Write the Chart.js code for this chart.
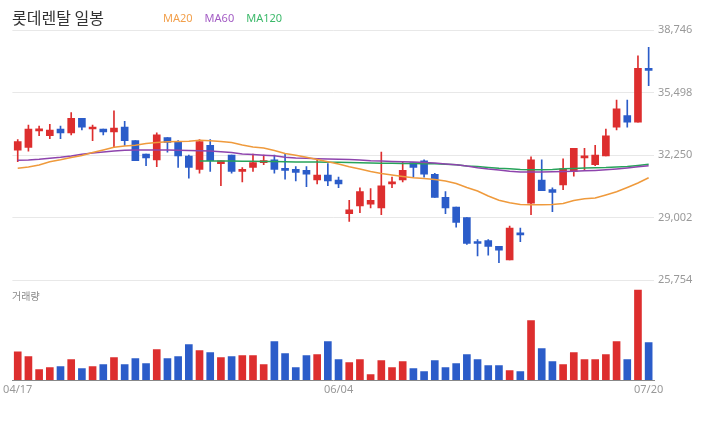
<!DOCTYPE html>
<html>
<head>
<meta charset="utf-8">
<script src="https://cdn.jsdelivr.net/npm/chart.js@4.4.1/dist/chart.umd.min.js"></script>
<style>
  body { margin: 0; background: #fff; font-family: 'Noto Sans CJK KR', 'Noto Sans', sans-serif; }
  #wrap { position: relative; width: 720px; height: 440px; }
  #title { position: absolute; left: 12px; top: 5px; font-size: 16px; color: #333; }
  #legend { position: absolute; left: 163px; top: 10px; font-size: 11px; font-family: 'Noto Sans', sans-serif; }
  #legend span { margin-right: 12px; }
  #volLabel { position: absolute; left: 12px; top: 288px; font-size: 10px; color: #888; }
  canvas { position: absolute; left: 0; top: 0; }
</style>
</head>
<body>
<div id="wrap">
  <canvas id="stockChart" width="720" height="440"></canvas>
  <div id="title">롯데렌탈 일봉</div>
  <div id="legend"><span style="color:#f2a04c">MA20</span><span style="color:#a35cc4">MA60</span><span style="color:#3cb96a">MA120</span></div>
  <div id="volLabel">거래량</div>
</div>
<script>
const dates = ['04/17','04/18','04/19','04/20','04/23','04/24','04/25','04/26','04/27','04/30',
  '05/02','05/03','05/04','05/08','05/09','05/10','05/11','05/14','05/15','05/16',
  '05/17','05/18','05/21','05/23','05/24','05/25','05/28','05/29','05/30','05/31',
  '06/04','06/05','06/07','06/08','06/11','06/12','06/14','06/15','06/18','06/19',
  '06/20','06/21','06/22','06/25','06/26','06/27','06/28','06/29','07/02','07/03',
  '07/04','07/05','07/06','07/09','07/10','07/11','07/12','07/16','07/19','07/20'];
const shownDates = ['04/17', '06/04', '07/20'];
const priceTicks = [25754, 29002, 32250, 35498, 38746];

const opens  = [32500,32650,33500,33250,33600,33400,34150,33600,33600,33450,
  33700,33000,32300,32000,33150,32950,32200,31500,32750,31800,
  32250,31400,31600,31850,32000,31550,31500,31450,30950,31200,
  30950,29200,29600,29700,29500,30750,30950,31850,31950,31250,
  30050,29550,29000,27750,27800,27500,26800,28200,29750,30950,
  30450,30700,31400,32100,31750,32200,33700,34300,33950,36750];
const closes = [32950,33600,33600,33550,33400,34150,33700,33700,33450,33650,
  33000,31950,32100,33300,32900,32200,31600,32950,31950,31950,
  31400,31500,31850,31950,31500,31450,31350,31250,31200,30900,
  30750,29400,30350,29900,30650,30850,31450,31600,31250,30050,
  29500,28750,27650,27650,27500,27300,28450,28100,32000,30400,
  30300,31550,32600,32200,32250,33250,34650,33950,36750,36650];
const highs  = [33050,33800,33750,33850,33750,34450,34150,33800,33600,34550,
  34000,33000,32300,33400,33150,33000,32250,33050,33050,31950,
  32250,31600,32300,32250,32250,32300,31650,31650,32000,31800,
  31100,29900,30550,30500,32400,31100,31900,31850,32000,31300,
  30350,29550,29000,27850,27850,27500,28550,28450,32150,32000,
  30550,32050,32600,32600,32750,33600,35100,35100,37400,37850];
const lows   = [31900,32450,33250,33100,33100,33300,33550,33000,33300,32650,
  32750,31950,31700,31650,32400,31600,31050,31300,31400,30650,
  31300,30850,31400,31750,31300,31000,30900,30600,30750,30650,
  30550,28800,29250,29500,29150,30550,30850,31100,31100,30050,
  29200,28500,27600,27000,27050,26650,26800,27750,29150,30400,
  29300,30450,31150,31450,31700,32200,33550,33700,33950,35850];
const volumes = [141000,117000,52000,62000,67000,102000,57000,67000,77000,112000,
  77000,107000,82000,152000,107000,117000,177000,147000,137000,112000,
  117000,122000,122000,77000,192000,132000,62000,122000,127000,192000,
  102000,87000,102000,27000,97000,62000,92000,57000,42000,97000,
  62000,82000,127000,102000,72000,72000,47000,42000,297000,157000,
  92000,77000,137000,102000,102000,127000,192000,102000,450000,187000];

const ma20  = [31559,31626,31730,31897,32001,32120,32224,32375,32510,32655,
  32718,32759,32848,32900,32941,32952,32967,33014,32988,32952,
  32894,32770,32671,32614,32484,32328,32240,32131,32011,31902,
  31782,31642,31522,31393,31289,31211,31133,31065,31029,30977,
  30899,30769,30561,30379,30119,29896,29766,29683,29667,29667,
  29672,29730,29885,29974,30015,30171,30338,30561,30795,31070];
const ma60  = [31974,31990,32026,32078,32130,32198,32286,32354,32406,32458,
  32494,32510,32510,32510,32510,32499,32489,32473,32453,32421,
  32380,32302,32271,32240,32208,32136,32094,32078,32058,32042,
  32026,32011,31990,31954,31938,31917,31897,31881,31860,31834,
  31782,31741,31678,31590,31522,31470,31403,31366,31366,31366,
  31377,31387,31403,31429,31450,31481,31522,31574,31637,31694];
const ma120 = [null,null,null,null,null,null,null,null,null,null,
  null,null,null,null,null,null,null,31938,31938,31938,
  31938,31928,31923,31912,31907,31897,31886,31886,31881,31871,
  31871,31860,31845,31834,31819,31819,31813,31803,31798,31793,
  31767,31741,31684,31652,31600,31559,31533,31502,31486,31486,
  31496,31533,31548,31574,31590,31600,31626,31652,31704,31767];

const RED = '#dd2e2e', BLUE = '#2b5cc9';
const colors = closes.map((c, i) => c >= opens[i] ? RED : BLUE);

const ctx = document.getElementById('stockChart').getContext('2d');
const chart = new Chart(ctx, {
  type: 'bar',
  data: {
    labels: dates,
    datasets: [
      { type: 'line', label: 'MA20', data: ma20, borderColor: '#ef9a3c', borderWidth: 1.5, pointRadius: 0, yAxisID: 'y', order: 0 },
      { type: 'line', label: 'MA60', data: ma60, borderColor: '#8e44ad', borderWidth: 1.5, pointRadius: 0, yAxisID: 'y', order: 0 },
      { type: 'line', label: 'MA120', data: ma120, borderColor: '#27a35a', borderWidth: 1.5, pointRadius: 0, yAxisID: 'y', order: 0 },
      { label: 'body', data: opens.map((o, i) => [o, closes[i]]), backgroundColor: colors, barThickness: 7, minBarLength: 2, grouped: false, yAxisID: 'y', order: 1 },
      { label: 'wick', data: lows.map((l, i) => [l, highs[i]]), backgroundColor: colors, barThickness: 1, grouped: false, yAxisID: 'y', order: 2 },
      { label: '거래량', data: volumes, backgroundColor: colors, barThickness: 7, grouped: false, yAxisID: 'yv', order: 1 }
    ]
  },
  options: {
    responsive: false,
    animation: false,
    layout: { padding: { left: 12, top: 30, right: 0, bottom: 40 } },
    plugins: { legend: { display: false }, tooltip: { enabled: false } },
    scales: {
      x: {
        offset: true,
        grid: { display: false, drawTicks: false },
        border: { color: '#888', width: 1 },
        ticks: {
          autoSkip: false, maxRotation: 0, padding: 3, color: '#999',
          font: { family: 'Noto Sans', size: 11 },
          callback: (v, i) => shownDates.includes(dates[i]) ? dates[i] : ''
        },
        afterFit: s => { s.height = 20; }
      },
      y: {
        position: 'right', stack: 'main', stackWeight: 5,
        min: 25754, max: 38746,
        afterBuildTicks: s => { s.ticks = priceTicks.map(v => ({ value: v })); },
        grid: { color: '#e8e8e8', drawTicks: false },
        border: { display: false },
        ticks: { padding: 4, color: '#999', font: { family: 'Noto Sans', size: 11 }, callback: v => v.toLocaleString('en-US') },
        afterFit: s => { s.width = 66; }
      },
      yv: {
        position: 'right', stack: 'main', stackWeight: 2,
        min: 0, max: 500000,
        grid: { display: false },
        border: { display: false },
        ticks: { display: false },
        afterFit: s => { s.width = 66; }
      }
    }
  }
});
</script>
</body>
</html>
